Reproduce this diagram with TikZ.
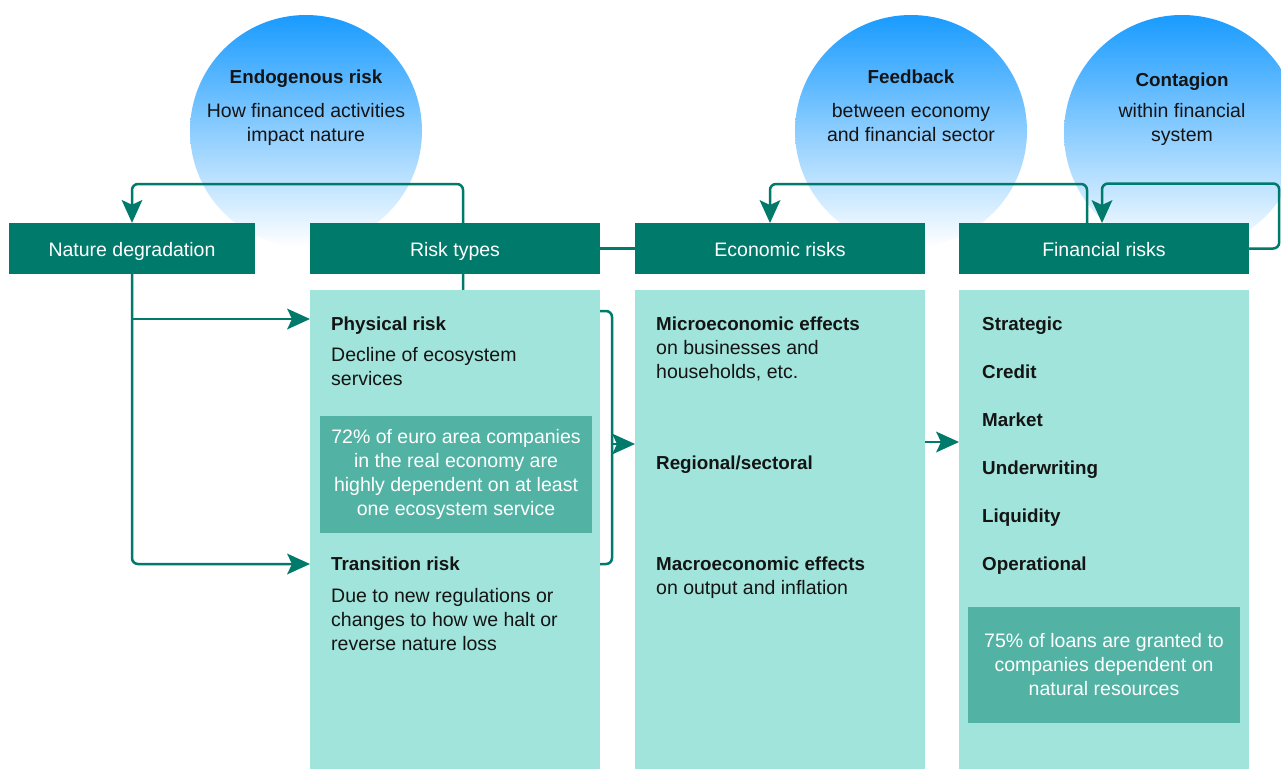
\documentclass[tikz,border=0pt]{standalone}
\usepackage{fontspec}
\setmainfont{Liberation Sans}
\usetikzlibrary{arrows.meta}
\definecolor{hdr}{RGB}{0,122,107}
\definecolor{bodyc}{RGB}{160,228,219}
\definecolor{innerc}{RGB}{82,179,165}
\definecolor{lnk}{RGB}{0,122,107}
\definecolor{sky}{RGB}{25,155,255}
\definecolor{skymid}{RGB}{196,228,255}
\definecolor{ink}{RGB}{20,20,20}
\pgfdeclarelayer{bg}
\pgfdeclarelayer{lines}
\pgfsetlayers{bg,lines,main}
\newcommand\bt[1]{{\fontsize{18.8}{24}\selectfont\bfseries #1}}
\begin{document}
\begin{tikzpicture}[x=1pt,y=-1pt,
  every node/.style={font=\fontsize{19.5}{24}\selectfont},
  hdrbox/.style={fill=hdr, text=white, inner sep=0pt, minimum height=51pt, text height=17pt, text depth=2pt},
  bodybox/.style={fill=bodyc, inner sep=0pt, minimum width=290pt, minimum height=479pt},
  innerbox/.style={fill=innerc, text=white, inner sep=0pt, minimum width=272pt, align=center},
  bubble/.style={circle, inner sep=0pt, minimum size=232pt, top color=sky, middle color=skymid, bottom color=white, draw=none},
  bubtxt/.style={anchor=north, inner sep=0pt, align=center, text=ink},
  txt/.style={anchor=north west, inner sep=0pt, align=left, text=ink},
  conn/.style={draw=lnk, line width=2.5pt},
  tip/.style={-{Stealth[length=23pt, width=21pt, inset=5pt, line width=0pt]}}
]
\useasboundingbox (0,0) rectangle (1281,769);
\clip (0,0) rectangle (1281,769);
\begin{pgfonlayer}{bg}
  \fill[white] (0,0) rectangle (1281,769);
  \node[bubble] (c1) at (306,131) {};
  \node[bubble] (c2) at (911,131) {};
  \node[bubble, minimum size=236pt] (c3) at (1182,133) {};
\end{pgfonlayer}

% bubble texts
\node[bubtxt] (c1t) at (306,66.2) {\strut\bt{Endogenous risk}\\[10pt]How financed activities\\impact nature};
\node[bubtxt] (c2t) at (911,66.2) {\strut\bt{Feedback}\\[10pt]between economy\\and financial sector};
\node[bubtxt] (c3t) at (1182,69.2) {\strut\bt{Contagion}\\[7pt]within financial\\system};

% headers
\node[hdrbox, minimum width=246pt] (nd) at (132,248.5) {Nature degradation};
\node[hdrbox, minimum width=290pt] (rt) at (455,248.5) {Risk types};
\node[hdrbox, minimum width=290pt] (ec) at (780,248.5) {Economic risks};
\node[hdrbox, minimum width=290pt] (fn) at (1104,248.5) {Financial risks};

% bodies
\node[bodybox] (rtb) at (455,529.5) {};
\node[bodybox] (ecb) at (780,529.5) {};
\node[bodybox] (fnb) at (1104,529.5) {};

\node[innerbox, minimum height=117pt] (rti) at (456,474.5) {72\% of euro area companies\\in the real economy are\\highly dependent on at least\\one ecosystem service};
\node[innerbox, minimum height=116pt] (fni) at (1104,665) {75\% of loans are granted to\\companies dependent on\\natural resources};

% body texts
\node[txt] (phys) at (331,313.2) {\strut\bt{Physical risk}\\[7pt]Decline of ecosystem\\services};
\node[txt] (trans) at (331,553.2) {\strut\bt{Transition risk}\\[8pt]Due to new regulations or\\changes to how we halt or\\reverse nature loss};
\node[txt] (micro) at (656,313.2) {\strut\bt{Microeconomic effects}\\on businesses and\\households, etc.};
\node[txt] (regio) at (656,452.2) {\strut\bt{Regional/sectoral}};
\node[txt] (macro) at (656,553.2) {\strut\bt{Macroeconomic effects}\\on output and inflation};
\node[txt] (fins) at (982,313.2) {\strut\bt{Strategic}\\[24pt]\bt{Credit}\\[24pt]\bt{Market}\\[24pt]\bt{Underwriting}\\[24pt]\bt{Liquidity}\\[24.5pt]\bt{Operational}};

% connector end points
\coordinate (physIn) at (310,319);
\coordinate (transIn) at (310,564);
\coordinate (endoStart) at (463,290);
\coordinate (brTop) at (600,311);
\coordinate (brBot) at (600,564);
\coordinate (brMid) at (612,444);
\coordinate (ecIn) at (635,444);
\coordinate (ecOut) at (925,442);
\coordinate (fnIn) at (959,442);
\coordinate (fbStart) at (1087,223);
\coordinate (ecArr) at (770,223);
\coordinate (cgArr) at (1102,223);

\begin{pgfonlayer}{lines}
  \draw[conn, tip] (nd.south |- physIn) -- (physIn);
  \draw[conn, tip, rounded corners=6pt] (nd.south) |- (transIn);
  \draw[conn, tip, rounded corners=6pt] (endoStart) -- ++(0,-106) -| (nd.north);
  \draw[conn] (rt.east) -- (ec.west);
  \draw[conn, rounded corners=6pt] (brTop) -- ++(12,0) -- ++(0,253) -- (brBot);
  \draw[conn, tip] (brMid) -- (ecIn);
  \draw[conn, tip] (ecOut) -- (fnIn);
  \draw[conn, tip, rounded corners=6pt] (fbStart) -- ++(0,-39) -| (ecArr);
  \draw[conn, tip, rounded corners=6pt] (fn.east) -- ++(30,0) -- ++(0,-65) -| (cgArr);
\end{pgfonlayer}
\end{tikzpicture}
\end{document}
